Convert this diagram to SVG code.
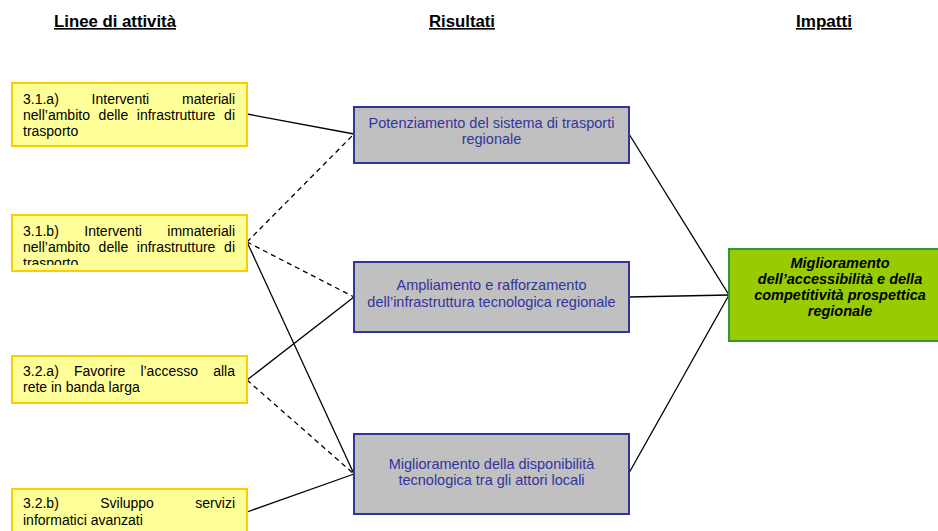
<svg xmlns="http://www.w3.org/2000/svg" width="938" height="531" viewBox="0 0 938 531">
  <defs>
    <style>
      .hdr { font-family: "Liberation Sans", Arial, sans-serif; font-weight: bold; font-size: 16px; fill: #000; text-decoration: underline; }
      .act rect { fill: #FFFF99; stroke: #FFCC00; stroke-width: 2; }
      .act text { font-family: "Liberation Sans", Arial, sans-serif; font-size: 14px; fill: #000; }
      .res rect { fill: #C0C0C0; stroke: #3333A0; stroke-width: 2; }
      .res text { font-family: "Liberation Sans", Arial, sans-serif; font-size: 14.5px; fill: #3333A0; text-anchor: middle; }
      .imp rect { fill: #99CC00; stroke: #339933; stroke-width: 2; }
      .imp text { font-family: "Liberation Sans", Arial, sans-serif; font-size: 14.5px; font-weight: bold; font-style: italic; fill: #000; text-anchor: middle; }
      .solid { stroke: #000; stroke-width: 1.3; fill: none; }
      .dash { stroke: #000; stroke-width: 1.3; fill: none; stroke-dasharray: 5 4; }
      .end { text-anchor: end; }
    </style>
    <clipPath id="clip-a2">
      <rect x="12" y="215" width="235" height="50"/>
    </clipPath>
  </defs>

  <!-- column headings -->
  <g id="headers">
    <text class="hdr" x="54" y="27" textLength="122" lengthAdjust="spacingAndGlyphs">Linee di attività</text>
    <text class="hdr" x="429" y="27" textLength="66" lengthAdjust="spacingAndGlyphs">Risultati</text>
    <text class="hdr" x="796" y="27" textLength="56" lengthAdjust="spacingAndGlyphs">Impatti</text>
  </g>

  <!-- connectors -->
  <g id="connectors">
    <line class="solid" x1="247" y1="114" x2="354" y2="134"/>
    <line class="dash" x1="247" y1="242" x2="354" y2="134"/>
    <line class="dash" x1="247" y1="242" x2="354" y2="297"/>
    <line class="solid" x1="247" y1="242" x2="354" y2="474"/>
    <line class="solid" x1="247" y1="380" x2="354" y2="297"/>
    <line class="dash" x1="247" y1="380" x2="354" y2="474"/>
    <line class="solid" x1="247" y1="512" x2="354" y2="474"/>
    <line class="solid" x1="629" y1="134" x2="729" y2="295"/>
    <line class="solid" x1="629" y1="297" x2="729" y2="295"/>
    <line class="solid" x1="629" y1="473" x2="729" y2="295"/>
  </g>

  <!-- activity lines -->
  <g id="act-3-1-a" class="act">
    <rect x="12" y="83" width="235" height="63"/>
    <text y="104"><tspan x="23">3.1.a)</tspan><tspan x="91.6">Interventi</tspan><tspan x="235" class="end">materiali</tspan></text>
    <text y="120"><tspan x="23">nell’ambito</tspan><tspan x="98.6">delle</tspan><tspan x="136.8">infrastrutture</tspan><tspan x="235" class="end">di</tspan></text>
    <text x="23" y="136">trasporto</text>
  </g>

  <g id="act-3-1-b" class="act">
    <rect x="12" y="215" width="235" height="56"/>
    <g clip-path="url(#clip-a2)">
      <text y="236"><tspan x="23">3.1.b)</tspan><tspan x="84.3">Interventi</tspan><tspan x="235" class="end">immateriali</tspan></text>
      <text y="252"><tspan x="23">nell’ambito</tspan><tspan x="98.6">delle</tspan><tspan x="136.8">infrastrutture</tspan><tspan x="235" class="end">di</tspan></text>
      <text x="23" y="268">trasporto</text>
    </g>
  </g>

  <g id="act-3-2-a" class="act">
    <rect x="12" y="356" width="235" height="47"/>
    <text y="376"><tspan x="23">3.2.a)</tspan><tspan x="74">Favorire</tspan><tspan x="140.4">l’accesso</tspan><tspan x="235" class="end">alla</tspan></text>
    <text x="23" y="392">rete in banda larga</text>
  </g>

  <g id="act-3-2-b" class="act">
    <rect x="12" y="489" width="235" height="48"/>
    <text y="508"><tspan x="23">3.2.b)</tspan><tspan x="100.2">Sviluppo</tspan><tspan x="235" class="end">servizi</tspan></text>
    <text x="23" y="525">informatici avanzati</text>
  </g>

  <!-- results -->
  <g id="res-trasporti" class="res">
    <rect x="354" y="107" width="275" height="56"/>
    <text x="491.5" y="127.5">Potenziamento del sistema di trasporti</text>
    <text x="491.5" y="144">regionale</text>
  </g>

  <g id="res-infrastruttura" class="res">
    <rect x="354" y="262" width="275" height="70"/>
    <text x="491.5" y="290">Ampliamento e rafforzamento</text>
    <text x="491.5" y="306.5">dell’infrastruttura tecnologica regionale</text>
  </g>

  <g id="res-disponibilita" class="res">
    <rect x="354" y="434" width="275" height="80"/>
    <text x="491.5" y="468.5">Miglioramento della disponibilità</text>
    <text x="491.5" y="485">tecnologica tra gli attori locali</text>
  </g>

  <!-- impact -->
  <g id="imp-accessibilita" class="imp">
    <rect x="729" y="249" width="222" height="92"/>
    <text x="840" y="268">Miglioramento</text>
    <text x="840" y="284">dell’accessibilità e della</text>
    <text x="840" y="300">competitività prospettica</text>
    <text x="840" y="316">regionale</text>
  </g>
</svg>
